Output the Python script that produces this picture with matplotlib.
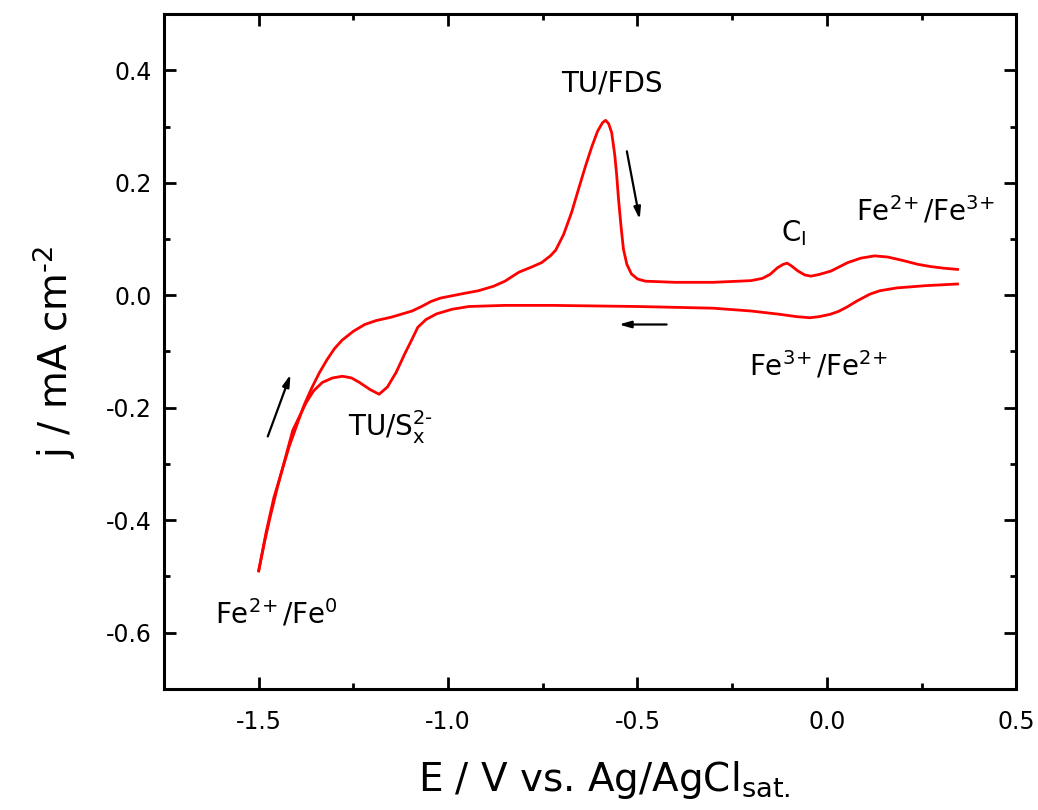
import matplotlib
matplotlib.use("Agg")
import matplotlib.pyplot as plt
from matplotlib.ticker import MultipleLocator, FormatStrFormatter

plt.rcParams['font.family'] = ['DejaVu Sans']
plt.rcParams['mathtext.default'] = 'regular'

# Anodic (forward) sweep: E (V) and j (mA cm^-2)
E_anodic = [-1.500, -1.480, -1.460, -1.440, -1.420, -1.400, -1.380, -1.360, -1.340, -1.320,
            -1.300, -1.280, -1.250, -1.220, -1.190, -1.150, -1.120, -1.095, -1.070, -1.045,
            -1.020, -0.990, -0.960, -0.920, -0.880, -0.850, -0.813, -0.780, -0.753, -0.730,
            -0.716, -0.695, -0.674, -0.655, -0.637, -0.620, -0.605, -0.592, -0.584, -0.576,
            -0.568, -0.560, -0.555, -0.550, -0.543, -0.537, -0.528, -0.516, -0.500, -0.479,
            -0.400, -0.300, -0.200, -0.170, -0.150, -0.130, -0.115, -0.105, -0.095, -0.076,
            -0.058, -0.042, -0.020, 0.011, 0.055, 0.090, 0.126, 0.160, 0.200, 0.240,
            0.274, 0.310, 0.345]
j_anodic = [-0.490, -0.420, -0.360, -0.315, -0.270, -0.232, -0.195, -0.165, -0.138, -0.115,
            -0.095, -0.080, -0.064, -0.052, -0.045, -0.039, -0.033, -0.028, -0.020, -0.011,
            -0.005, -0.001, 0.003, 0.008, 0.016, 0.025, 0.041, 0.050, 0.058, 0.070,
            0.080, 0.108, 0.147, 0.190, 0.230, 0.265, 0.292, 0.307, 0.311, 0.305,
            0.289, 0.250, 0.215, 0.171, 0.120, 0.082, 0.055, 0.038, 0.029, 0.025,
            0.023, 0.023, 0.026, 0.030, 0.037, 0.049, 0.055, 0.057, 0.053, 0.043,
            0.036, 0.034, 0.037, 0.043, 0.058, 0.066, 0.070, 0.068, 0.062, 0.055,
            0.051, 0.048, 0.046]

# Cathodic (reverse) sweep
E_cathodic = [0.345, 0.260, 0.184, 0.140, 0.114, 0.080, 0.053, 0.030, 0.008, -0.020,
              -0.045, -0.080, -0.123, -0.200, -0.300, -0.500, -0.726, -0.850, -0.945, -0.990,
              -1.030, -1.058, -1.080, -1.095, -1.115, -1.137, -1.160, -1.182, -1.205, -1.234,
              -1.255, -1.279, -1.305, -1.332, -1.355, -1.374, -1.392, -1.410, -1.430, -1.450,
              -1.470, -1.485, -1.500]
j_cathodic = [0.020, 0.017, 0.013, 0.008, 0.002, -0.010, -0.021, -0.029, -0.034, -0.038,
              -0.040, -0.038, -0.034, -0.028, -0.023, -0.020, -0.018, -0.018, -0.020, -0.025,
              -0.033, -0.043, -0.057, -0.078, -0.105, -0.137, -0.163, -0.176, -0.168, -0.155,
              -0.147, -0.144, -0.147, -0.155, -0.170, -0.190, -0.215, -0.240, -0.290, -0.340,
              -0.395, -0.440, -0.490]

HY = '\u2010'  # plain hyphen for superscripts like 2-

# Peak labels: text, E, j
labels = ['TU/FDS', 'C$_{I}$', 'Fe$^{2\\!+}$/Fe$^{3\\!+}$', 'Fe$^{3\\!+}$/Fe$^{2\\!+}$',
          'TU/S$_{x}^{2' + HY + '}$', 'Fe$^{2\\!+}$/Fe$^{0}$']
label_E = [-0.568, -0.088, 0.262, -0.022, -1.153, -1.453]
label_j = [0.376, 0.110, 0.150, -0.125, -0.235, -0.565]

# Sweep direction arrows: (E start, j start, E end, j end)
arrows = [(-1.476, -0.251, -1.416, -0.141),
          (-0.528, 0.256, -0.494, 0.135),
          (-0.423, -0.052, -0.549, -0.052)]

fig = plt.figure(figsize=(10.38, 8.10), dpi=100)
ax = fig.add_axes([0.158, 0.1494, 0.821, 0.8333])

ax.plot(E_anodic, j_anodic, color='#ff0000', lw=2.0, solid_joinstyle='round')
ax.plot(E_cathodic, j_cathodic, color='#ff0000', lw=2.0, solid_joinstyle='round')

for (x0, y0, x1, y1) in arrows:
    ax.annotate('', xy=(x1, y1), xytext=(x0, y0),
                arrowprops=dict(arrowstyle='-|>,head_length=0.7,head_width=0.2',
                                color='black', lw=1.6, shrinkA=0, shrinkB=0))

for t, x, y in zip(labels, label_E, label_j):
    ax.text(x, y, t, fontsize=20, ha='center', va='center', color='black')

ax.set_xlim(-1.75, 0.5)
ax.set_ylim(-0.7, 0.5)
ax.xaxis.set_major_locator(MultipleLocator(0.5))
ax.xaxis.set_minor_locator(MultipleLocator(0.25))
ax.yaxis.set_major_locator(MultipleLocator(0.2))
ax.yaxis.set_minor_locator(MultipleLocator(0.1))
ax.xaxis.set_major_formatter(FormatStrFormatter('%.1f'))
ax.yaxis.set_major_formatter(FormatStrFormatter('%.1f'))

ax.tick_params(which='both', direction='in', top=True, right=True, width=2.0, labelsize=17)
ax.tick_params(which='major', length=8.5)
ax.tick_params(which='minor', length=4.5)
ax.tick_params(axis='x', which='major', pad=15)
ax.tick_params(axis='y', which='major', pad=9)
for s in ax.spines.values():
    s.set_linewidth(2.2)

ax.set_xlabel('E / V vs. Ag/AgCl$_{sat.}$', fontsize=28, labelpad=18)
ax.xaxis.label.set_x(0.517)
ax.set_ylabel('j / mA cm$^{' + HY + '2}$', fontsize=28, labelpad=20)

fig.savefig('out.png', dpi=100)
